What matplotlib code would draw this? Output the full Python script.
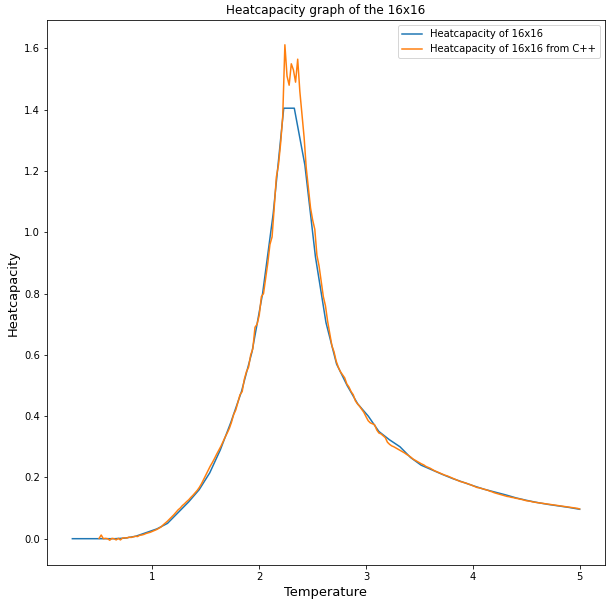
import matplotlib
matplotlib.use("Agg")
import matplotlib.pyplot as plt
import numpy as np

# ----- data -----

# coarse run (python)
temp_py = np.linspace(0.25, 5.0, 49)
cv_py = [0.000, 0.000, 0.000, 0.000, 0.000, 0.002, 0.008, 0.020, 0.032, 0.050,
         0.085, 0.120, 0.160, 0.215, 0.290, 0.380, 0.480, 0.610, 0.800, 1.060,
         1.405, 1.405, 1.220, 0.920, 0.705, 0.570, 0.500, 0.440, 0.400, 0.350,
         0.323, 0.300, 0.265, 0.240, 0.225, 0.210, 0.196, 0.184, 0.172, 0.161,
         0.152, 0.143, 0.133, 0.125, 0.118, 0.112, 0.107, 0.102, 0.096]

# fine run (C++), T = 0.50 .. 5.00 step 0.02
temp_cpp = np.round(np.arange(0.50, 5.001, 0.02), 2)
cv_cpp = [
    0.001, 0.012, 0.000, 0.001, 0.000, -0.005, 0.001, 0.000, -0.004, 0.001,
    -0.004, 0.002, 0.003, 0.002, 0.005, 0.004, 0.006, 0.008, 0.007, 0.011,
    0.012, 0.014, 0.017, 0.019, 0.021, 0.024, 0.027, 0.030, 0.034, 0.038,
    0.045, 0.051, 0.057, 0.064, 0.071, 0.078, 0.086, 0.094, 0.100, 0.108,
    0.114, 0.121, 0.127, 0.135, 0.142, 0.150, 0.158, 0.168, 0.180, 0.194,
    0.208, 0.222, 0.236, 0.248, 0.261, 0.275, 0.288, 0.301, 0.316, 0.331,
    0.345, 0.360, 0.380, 0.405, 0.420, 0.445, 0.470, 0.480, 0.520, 0.545,
    0.560, 0.600, 0.620, 0.690, 0.700, 0.730, 0.790, 0.800, 0.850, 0.900,
    0.960, 0.985, 1.080, 1.180, 1.220, 1.290, 1.380, 1.612, 1.510, 1.480,
    1.550, 1.530, 1.490, 1.565, 1.460, 1.385, 1.310, 1.210, 1.145, 1.080,
    1.040, 1.010, 0.925, 0.890, 0.840, 0.790, 0.760, 0.710, 0.670, 0.630,
    0.610, 0.580, 0.560, 0.545, 0.535, 0.525, 0.505, 0.495, 0.480, 0.470,
    0.450, 0.440, 0.432, 0.422, 0.412, 0.398, 0.385, 0.378, 0.375, 0.372,
    0.355, 0.345, 0.342, 0.336, 0.330, 0.315, 0.308, 0.303, 0.300, 0.296,
    0.292, 0.288, 0.284, 0.280, 0.275, 0.271, 0.266, 0.260, 0.256, 0.252,
    0.248, 0.244, 0.241, 0.236, 0.233, 0.230, 0.226, 0.222, 0.219, 0.216,
    0.213, 0.210, 0.207, 0.205, 0.202, 0.199, 0.196, 0.193, 0.190, 0.187,
    0.185, 0.183, 0.181, 0.178, 0.176, 0.173, 0.170, 0.167, 0.166, 0.164,
    0.162, 0.160, 0.158, 0.155, 0.153, 0.150, 0.148, 0.146, 0.144, 0.142,
    0.140, 0.138, 0.137, 0.135, 0.134, 0.132, 0.131, 0.129, 0.128, 0.126,
    0.124, 0.123, 0.122, 0.120, 0.119, 0.118, 0.117, 0.116, 0.115, 0.114,
    0.113, 0.112, 0.111, 0.110, 0.109, 0.108, 0.107, 0.106, 0.105, 0.104,
    0.103, 0.102, 0.101, 0.100, 0.099, 0.097,
]

# ----- plot -----

fig = plt.figure(figsize=(615 / 72, 608 / 72), dpi=72)
ax = fig.add_axes([47 / 615, 1 - 565 / 608, 558 / 615, 545 / 608])

ax.plot(temp_py, cv_py, label='Heatcapacity of 16x16')
ax.plot(temp_cpp, cv_cpp, label='Heatcapacity of 16x16 from C++')

ax.set_title('Heatcapacity graph of the 16x16', fontsize=12)
ax.set_xlabel('Temperature', fontsize=13)
ax.set_ylabel('Heatcapacity', fontsize=13)
ax.legend(loc='upper right')

fig.savefig('out.png', dpi=72)
